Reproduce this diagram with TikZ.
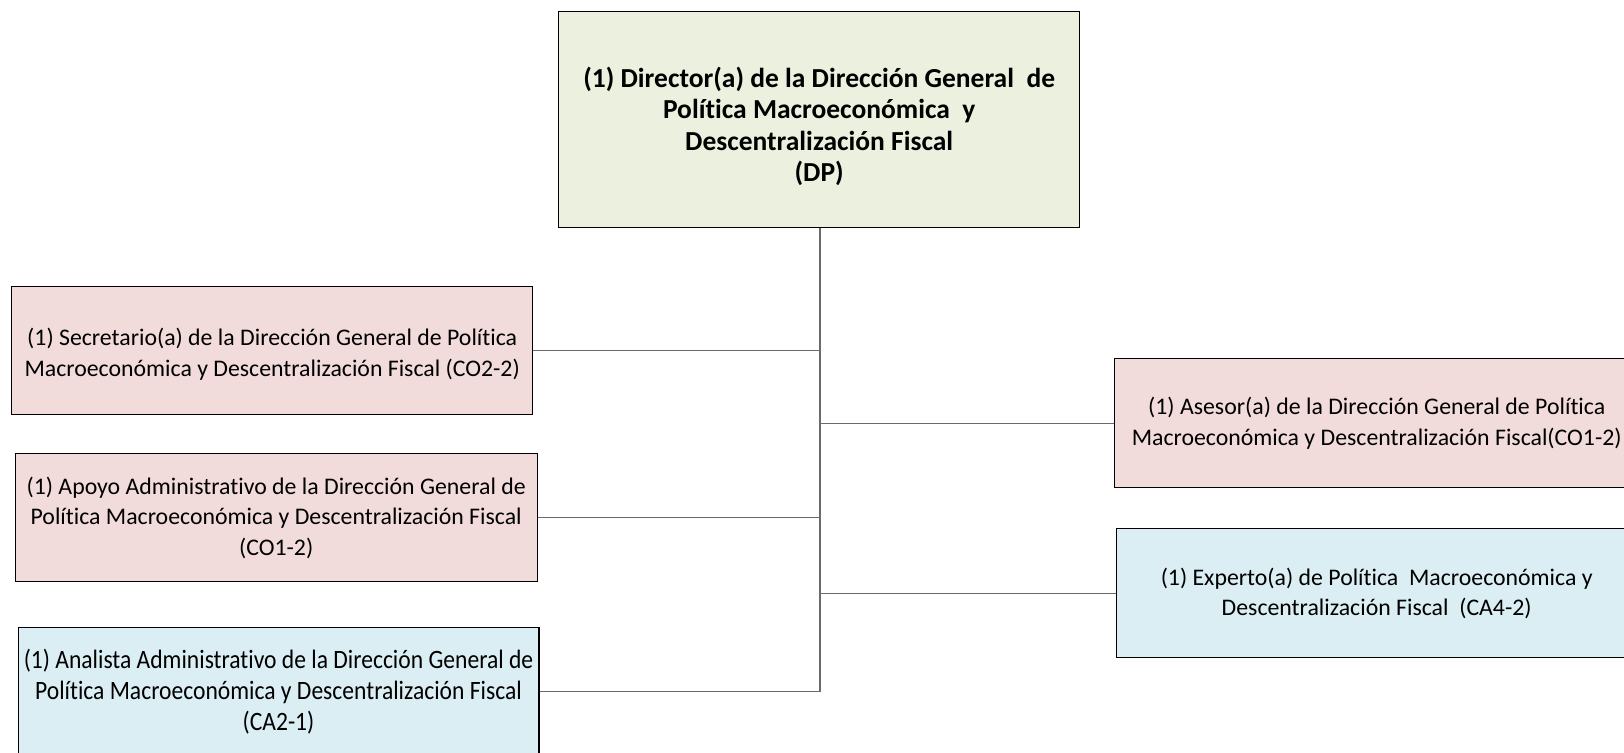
\documentclass[tikz,border=0pt]{standalone}
\usepackage{fontspec}
\setmainfont{Carlito}[Ligatures=NoCommon]
\definecolor{topfill}{HTML}{EBF1DE}
\definecolor{pinkfill}{HTML}{F2DCDB}
\definecolor{bluefill}{HTML}{DBEEF4}
\definecolor{linkgray}{HTML}{6A6A6A}
\newcommand{\lowerby}[2]{\raisebox{-#1}[\height][\depth]{#2}}
\begin{document}
\begin{tikzpicture}[x=1pt,y=-1pt,
  box/.style={draw=black,line width=1.4pt,anchor=north west,inner sep=0pt,align=center,
    font=\fontsize{23.8}{30.5}\selectfont,text=black},
  link/.style={draw=linkgray,line width=1.4pt}]
\clip (0,0) rectangle (1624,752);
\fill[white] (0,0) rectangle (1624,752);
\node[box,fill=topfill,minimum width=521pt,minimum height=216pt,
  font=\fontsize{27.5}{31.5}\selectfont\bfseries] (dp) at (558,11)
  {\lowerby{6.7pt}{\parbox{515pt}{\centering (1) Director(a) de la Dirección General\ \ de\\ Política Macroeconómica\ \ y\\ Descentralización Fiscal\\ (DP)}}};
\node[box,fill=pinkfill,minimum width=521pt,minimum height=128pt] (sec) at (11,286)
  {\lowerby{3.6pt}{\parbox{515pt}{\centering (1) Secretario(a) de la Dirección General de Política\\ Macroeconómica y Descentralización Fiscal (CO2-2)}}};
\node[box,fill=pinkfill,minimum width=522pt,minimum height=128pt] (apo) at (14.5,453)
  {(1) Apoyo Administrativo de la Dirección General de\\ Política Macroeconómica y Descentralización Fiscal\\ (CO1-2)};
\node[box,fill=bluefill,minimum width=519pt,minimum height=128pt] (ana) at (17.5,627)
  {\scalebox{0.89}[1]{\parbox{585pt}{\centering\fontsize{26.5}{31}\selectfont (1) Analista Administrativo de la Dirección General de\\ Política Macroeconómica y Descentralización Fiscal\\ (CA2-1)}}};
\node[box,fill=pinkfill,minimum width=524pt,minimum height=129pt] (ase) at (1114,358)
  {(1) Asesor(a) de la Dirección General de Política\\ Macroeconómica y Descentralización Fiscal(CO1-2)};
\node[box,fill=bluefill,minimum width=520pt,minimum height=129pt] (exp) at (1116,528)
  {(1) Experto(a) de Política\ \ Macroeconómica y\\ Descentralización Fiscal\ \ (CA4-2)};
\coordinate (tb) at (820,692);
\draw[link] (dp.south -| tb) -- (tb);
\draw[link] (sec.east) -- (sec.east -| tb);
\draw[link] (apo.east) -- (apo.east -| tb);
\draw[link] (ana.east) -- (ana.east -| tb);
\draw[link] (ase.west) -- (ase.west -| tb);
\draw[link] (exp.west) -- (exp.west -| tb);
\end{tikzpicture}
\end{document}
